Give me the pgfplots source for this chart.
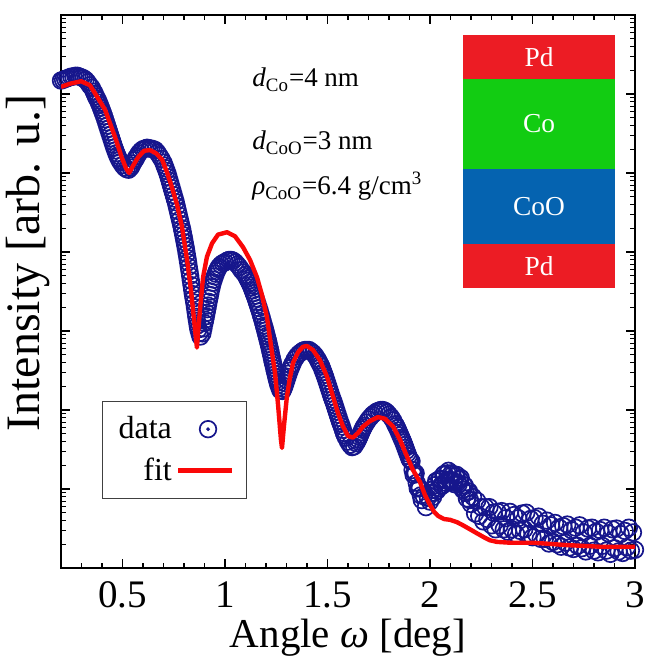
\documentclass[border=0pt]{standalone}
\usepackage{pgfplots}
\pgfplotsset{compat=1.18}
\usepackage{fontspec}
\setmainfont{Liberation Serif}
\definecolor{navy}{RGB}{22,22,140}
\definecolor{fitred}{RGB}{250,8,8}
\definecolor{pdred}{RGB}{236,28,36}
\definecolor{cogreen}{RGB}{18,204,18}
\definecolor{cooblue}{RGB}{5,99,176}
\begin{document}
\begin{tikzpicture}
\begin{axis}[
  at={(0,0)}, anchor=south west,
  scale only axis, width=287bp, height=276.5bp,
  xmin=0.2, xmax=3, ymode=log, ymin=1, ymax=1e7,
  xtick={0.5,1,1.5,2,2.5,3},
  xticklabels={0.5,1,1.5,2,2.5,3},
  minor xtick={0.3,0.4,0.6,0.7,0.8,0.9,1.1,1.2,1.3,1.4,1.6,1.7,1.8,1.9,2.1,2.2,2.3,2.4,2.6,2.7,2.8,2.9},
  ytick={1,10,100,1000,10000,100000,1000000,10000000},
  minor ytick={2,3,4,5,6,7,8,9,20,30,40,50,60,70,80,90,200,300,400,500,600,700,800,900,2000,3000,4000,5000,6000,7000,8000,9000,20000,30000,40000,50000,60000,70000,80000,90000,200000,300000,400000,500000,600000,700000,800000,900000,2000000,3000000,4000000,5000000,6000000,7000000,8000000,9000000},
  yticklabels={},
  tick align=inside,
  major tick length=4.5bp, minor tick length=2.6bp,
  axis line style={line width=1bp},
  every tick/.style={black, line width=0.7bp},
  /pgf/number format/assume math mode=true,
  xticklabel style={font=\fontsize{19.5bp}{22bp}\selectfont, anchor=base, yshift=-19.5bp},
  xlabel={Angle \textit{ω} [deg]},
  xlabel style={font=\fontsize{20.5bp}{24bp}\selectfont, at={(rel axis cs:0.5,-0.1440)}, anchor=base},
  ylabel={Intensity [arb. u.]},
  ylabel style={font=\fontsize{24bp}{28bp}\selectfont, at={(rel axis cs:-0.0383,0.5515)}, anchor=base},
  clip mode=individual,
  legend plot pos=right,
  legend cell align=right,
  legend style={at={(rel axis cs:0.0714,0.302)}, anchor=north west, draw=black!75, line width=0.6bp,
    font=\fontsize{16bp}{18bp}\selectfont, inner xsep=6bp, inner ysep=5.5bp, row sep=4bp},
]
\addplot[only marks, mark=o, mark size=4.15bp, navy, mark options={line width=0.85bp},
  legend image code/.code={\draw[navy, line width=0.85bp] (15bp,0) circle (4.15bp); \fill[navy] (15bp,0) circle (0.6bp);}]
coordinates {
(0.20,1.48e6)(0.21,1.51e6)(0.22,1.55e6)(0.23,1.58e6)(0.24,1.62e6)(0.25,1.66e6)(0.26,1.66e6)(0.27,1.70e6)(0.28,1.70e6)(0.29,1.66e6)
(0.30,1.62e6)(0.31,1.58e6)(0.32,1.51e6)(0.33,1.41e6)(0.34,1.29e6)(0.35,1.20e6)(0.36,1.07e6)(0.37,9.33e5)(0.38,8.32e5)(0.39,7.24e5)
(0.40,6.17e5)(0.41,5.25e5)(0.42,4.37e5)(0.43,3.63e5)(0.44,3.02e5)(0.45,2.51e5)(0.46,2.09e5)(0.47,1.78e5)(0.48,1.55e5)(0.49,1.38e5)
(0.50,1.26e5)(0.51,1.17e5)(0.52,1.12e5)(0.53,1.10e5)(0.54,1.17e5)(0.55,1.32e5)(0.56,1.45e5)(0.57,1.62e5)(0.58,1.78e5)(0.59,1.91e5)
(0.60,2.00e5)(0.61,2.04e5)(0.62,2.09e5)(0.63,2.04e5)(0.64,2.04e5)(0.65,2.00e5)(0.66,1.95e5)(0.67,1.82e5)(0.68,1.66e5)(0.69,1.51e5)
(0.70,1.35e5)(0.71,1.15e5)(0.72,9.77e4)(0.73,7.94e4)(0.74,6.46e4)(0.75,5.25e4)(0.76,4.27e4)(0.77,3.31e4)(0.78,2.57e4)(0.79,2.00e4)
(0.80,1.48e4)(0.81,1.07e4)(0.82,7.41e3)(0.83,5.01e3)(0.84,3.31e3)(0.85,2.29e3)(0.86,1.51e3)(0.87,1.05e3)(0.88,8.51e2)(0.89,9.33e2)
(0.90,1.26e3)(0.91,1.70e3)(0.92,2.34e3)(0.93,3.16e3)(0.94,4.07e3)(0.95,4.90e3)(0.96,5.75e3)(0.97,6.46e3)(0.98,6.92e3)(0.99,7.24e3)
(1.00,7.41e3)(1.01,7.76e3)(1.02,7.94e3)(1.03,7.94e3)(1.04,7.76e3)(1.05,7.41e3)(1.06,6.92e3)(1.07,6.46e3)(1.08,5.89e3)(1.09,5.50e3)
(1.10,5.13e3)(1.11,4.57e3)(1.12,4.07e3)(1.13,3.55e3)(1.14,3.02e3)(1.15,2.57e3)(1.16,2.14e3)(1.17,1.78e3)(1.18,1.45e3)(1.19,1.17e3)
(1.20,9.33e2)(1.21,7.41e2)(1.22,5.75e2)(1.23,4.37e2)(1.24,3.39e2)(1.25,2.63e2)(1.26,2.09e2)(1.27,1.78e2)(1.28,1.74e2)(1.29,2.00e2)
(1.30,2.40e2)(1.31,2.88e2)(1.32,3.39e2)(1.33,3.89e2)(1.34,4.37e2)(1.35,4.79e2)(1.36,5.13e2)(1.37,5.37e2)(1.38,5.62e2)(1.39,5.75e2)
(1.40,5.75e2)(1.41,5.75e2)(1.42,5.50e2)(1.43,5.25e2)(1.44,4.90e2)(1.45,4.47e2)(1.46,3.98e2)(1.47,3.55e2)(1.48,3.02e2)(1.49,2.57e2)
(1.50,2.14e2)(1.51,1.78e2)(1.52,1.48e2)(1.53,1.26e2)(1.54,1.05e2)(1.55,8.71e1)(1.56,7.24e1)(1.57,6.17e1)(1.58,5.13e1)(1.59,4.47e1)
(1.60,3.98e1)(1.61,3.63e1)(1.62,3.39e1)(1.63,3.47e1)(1.64,3.80e1)(1.65,4.27e1)(1.66,4.90e1)(1.67,5.62e1)(1.68,6.31e1)(1.69,6.92e1)
(1.70,7.59e1)(1.71,8.13e1)(1.72,8.71e1)(1.73,9.12e1)(1.74,9.55e1)(1.75,9.77e1)(1.76,1.00e2)(1.77,1.00e2)(1.78,9.77e1)(1.79,9.33e1)
(1.80,8.71e1)(1.81,8.13e1)(1.82,7.41e1)(1.83,6.61e1)(1.84,5.89e1)(1.85,5.13e1)(1.86,4.47e1)(1.87,3.89e1)(1.88,3.31e1)(1.89,2.82e1)
(1.90,2.40e1)(1.91,2.24e1)(1.92,1.51e1)(1.93,1.58e1)(1.94,1.02e1)(1.95,1.02e1)(1.96,7.24)(1.97,8.13)(1.98,5.89)(1.99,7.76)
(2.00,6.92)(2.01,9.77)(2.02,8.91)(2.03,12.6)(2.04,10.2)(2.05,13.5)(2.06,11.0)(2.07,15.5)(2.08,12.9)(2.09,17.0)
(2.10,12.3)(2.11,15.1)(2.12,11.5)(2.13,15.1)(2.14,11.5)(2.15,13.8)(2.16,9.77)(2.17,11.0)(2.18,7.59)(2.19,9.33)
(2.20,6.46)(2.21,7.94)(2.22,4.90)(2.23,7.08)(2.24,4.57)(2.25,5.89)(2.26,3.89)(2.27,5.89)(2.28,4.17)(2.29,5.89)
(2.30,3.47)(2.31,5.01)(2.32,3.09)(2.33,5.13)(2.34,3.47)(2.35,5.25)(2.36,3.09)(2.37,4.27)(2.38,2.88)(2.39,5.13)
(2.40,3.09)(2.41,4.68)(2.42,2.69)(2.43,4.27)(2.44,2.95)(2.45,4.90)(2.46,3.09)(2.47,5.01)(2.48,2.69)(2.49,4.17)
(2.50,2.45)(2.51,4.27)(2.52,2.63)(2.53,4.47)(2.54,2.34)(2.55,3.63)(2.56,2.34)(2.57,3.98)(2.58,2.04)(2.59,3.47)
(2.60,2.14)(2.61,3.72)(2.62,2.00)(2.63,3.24)(2.64,1.86)(2.65,3.39)(2.66,2.09)(2.67,3.55)(2.68,1.82)(2.69,3.02)
(2.70,1.74)(2.71,3.24)(2.72,1.91)(2.73,3.47)(2.74,1.78)(2.75,2.82)(2.76,1.62)(2.77,3.16)(2.78,1.91)(2.79,3.24)
(2.80,1.66)(2.81,2.88)(2.82,1.58)(2.83,3.02)(2.84,1.91)(2.85,3.24)(2.86,1.66)(2.87,2.75)(2.88,1.51)(2.89,3.09)
(2.90,1.78)(2.91,3.16)(2.92,1.62)(2.93,2.69)(2.94,1.55)(2.95,2.95)(2.96,1.82)(2.97,3.24)(2.98,1.66)(2.99,2.82)(3.00,1.70)
(0.365,1.00e6)(0.375,8.81e5)(0.385,7.76e5)(0.395,6.68e5)(0.405,5.69e5)(0.415,4.79e5)(0.425,3.98e5)(0.435,3.31e5)
(0.445,2.75e5)(0.455,2.29e5)(0.465,1.93e5)(0.475,1.66e5)(0.485,1.46e5)(0.545,1.24e5)(0.565,1.53e5)
(0.705,1.24e5)(0.715,1.06e5)(0.725,8.81e4)(0.735,7.16e4)(0.745,5.82e4)(0.755,4.73e4)(0.765,3.76e4)(0.775,2.92e4)(0.785,2.26e4)
(0.7933,1.81e4)(0.7967,1.63e4)(0.8033,1.33e4)(0.8067,1.19e4)(0.8133,9.48e3)(0.8167,8.37e3)(0.8233,6.50e3)(0.8267,5.71e3)
(0.8333,4.37e3)(0.8367,3.80e3)(0.8433,2.93e3)(0.8467,2.59e3)(0.8533,2.00e3)(0.8567,1.74e3)(0.8633,1.34e3)(0.8667,1.18e3)
(0.875,9.44e2)(0.895,1.08e3)(0.9033,1.39e3)(0.9067,1.54e3)(0.9133,1.89e3)(0.9167,2.10e3)(0.9233,2.59e3)(0.9267,2.86e3)
(0.935,3.59e3)(0.945,4.47e3)(0.955,5.31e3)(0.965,6.10e3)
(1.105,4.84e3)(1.115,4.32e3)(1.125,3.80e3)(1.135,3.27e3)(1.145,2.79e3)(1.155,2.34e3)(1.165,1.95e3)(1.175,1.60e3)(1.185,1.30e3)
(1.1933,1.09e3)(1.1967,1.01e3)(1.2033,8.65e2)(1.2067,8.00e2)(1.2133,6.81e2)(1.2167,6.27e2)(1.2233,5.25e2)(1.2267,4.79e2)
(1.2333,4.01e2)(1.2367,3.69e2)(1.2433,3.11e2)(1.2467,2.86e2)(1.2533,2.44e2)(1.2567,2.25e2)(1.265,1.93e2)
(1.285,1.86e2)(1.295,2.19e2)(1.305,2.63e2)(1.315,3.13e2)(1.325,3.63e2)
(1.455,4.22e2)(1.465,3.76e2)(1.475,3.27e2)(1.485,2.79e2)(1.495,2.34e2)(1.505,1.95e2)(1.515,1.62e2)(1.525,1.36e2)
(1.535,1.15e2)(1.545,9.55e1)(1.555,7.94e1)(1.565,6.68e1)(1.575,5.62e1)(1.585,4.79e1)
(1.645,4.03e1)(1.655,4.57e1)(1.665,5.25e1)(1.675,5.96e1)
(1.835,6.24e1)(1.845,5.50e1)(1.855,4.79e1)(1.865,4.17e1)(1.875,3.59e1)(1.885,3.05e1)(1.895,2.60e1)
(1.905,2.29e1)(1.915,1.74e1)(1.925,1.58e1)(1.935,1.20e1)(1.945,1.05e1)(1.955,8.32)
(2.005,8.91)(2.015,7.94)(2.025,11.2)(2.035,9.55)(2.045,13.2)(2.055,11.2)(2.065,15.1)(2.075,12.0)(2.085,15.8)(2.095,13.2)
(2.105,15.8)(2.115,12.6)(2.125,14.5)(2.135,12.0)(2.145,13.2)(2.155,10.5)(2.165,11.2)(2.175,8.91)(2.185,9.33)(2.195,7.24)
};
\addlegendentry{data}
\addplot[fitred, line width=2.2bp, line join=round, no marks,
  legend image code/.code={\draw[fitred, line width=2.2bp] (0,0) -- (27bp,0);}]
coordinates {
(0.200,1.23e6)(0.244,1.35e6)(0.298,1.45e6)(0.341,1.29e6)(0.366,1.02e6)(0.415,6.31e5)(0.463,2.88e5)(0.496,1.58e5)
(0.517,1.15e5)(0.532,1.00e5)(0.551,1.23e5)(0.576,1.58e5)(0.605,1.91e5)(0.634,1.95e5)(0.663,1.78e5)(0.693,1.48e5)
(0.717,1.02e5)(0.741,6.61e4)(0.766,3.98e4)(0.790,2.09e4)(0.815,7.94e3)(0.834,3.31e3)(0.849,1.38e3)(0.863,6.17e2)
(0.878,1.86e3)(0.893,4.79e3)(0.912,8.71e3)(0.937,1.29e4)(0.966,1.66e4)(1.010,1.78e4)(1.049,1.58e4)(1.088,1.15e4)
(1.122,7.94e3)(1.156,4.79e3)(1.180,2.88e3)(1.205,1.48e3)(1.224,6.61e2)(1.244,2.95e2)(1.259,1.15e2)(1.273,4.17e1)
(1.278,3.31e1)(1.288,6.46e1)(1.302,1.48e2)(1.317,2.57e2)(1.332,3.98e2)(1.356,5.37e2)(1.380,6.31e2)(1.400,6.46e2)
(1.429,5.75e2)(1.463,4.27e2)(1.498,2.63e2)(1.527,1.48e2)(1.551,9.12e1)(1.576,6.17e1)(1.600,4.68e1)(1.624,4.47e1)
(1.649,5.13e1)(1.673,6.17e1)(1.707,7.24e1)(1.746,8.13e1)(1.780,7.76e1)(1.820,6.17e1)(1.854,4.17e1)(1.888,2.57e1)
(1.917,1.74e1)(1.951,1.23e1)(1.976,8.32)(2.000,6.31)(2.020,5.13)(2.039,4.57)(2.068,4.17)(2.098,4.07)
(2.132,3.80)(2.161,3.47)(2.195,3.09)(2.229,2.75)(2.263,2.45)(2.293,2.24)(2.327,2.14)(2.390,2.09)
(2.502,2.09)(2.668,1.95)(2.829,1.86)(3.000,1.86)
};
\addlegendentry{fit}
% layer stack inset
\fill[pdred] (rel axis cs:0.7003,0.8843) rectangle (rel axis cs:0.9652,0.9638);
\fill[cogreen] (rel axis cs:0.7003,0.7215) rectangle (rel axis cs:0.9652,0.8843);
\fill[cooblue] (rel axis cs:0.7003,0.5859) rectangle (rel axis cs:0.9652,0.7215);
\fill[pdred] (rel axis cs:0.7003,0.5063) rectangle (rel axis cs:0.9652,0.5859);
\node[white, font=\fontsize{13.7bp}{16bp}\selectfont] at (rel axis cs:0.8328,0.9240) {Pd};
\node[white, font=\fontsize{13.7bp}{16bp}\selectfont] at (rel axis cs:0.8328,0.8029) {Co};
\node[white, font=\fontsize{13.7bp}{16bp}\selectfont] at (rel axis cs:0.8328,0.6537) {CoO};
\node[white, font=\fontsize{13.7bp}{16bp}\selectfont] at (rel axis cs:0.8328,0.5461) {Pd};
% annotations
\node[anchor=base west, inner sep=0pt, font=\fontsize{13.5bp}{16bp}\selectfont] at (rel axis cs:0.3328,0.8698) {\textit{d}\textsubscript{Co}=4 nm};
\node[anchor=base west, inner sep=0pt, font=\fontsize{13.5bp}{16bp}\selectfont] at (rel axis cs:0.3328,0.7559) {\textit{d}\textsubscript{CoO}=3 nm};
\node[anchor=base west, inner sep=0pt, font=\fontsize{13.5bp}{16bp}\selectfont] at (rel axis cs:0.3328,0.6745) {\textit{ρ}\textsubscript{CoO}=6.4 g/cm\textsuperscript{3}};
\end{axis}
\pgfresetboundingbox
\path[use as bounding box] (-30.5bp,-44.5bp) rectangle (294.5bp,284bp);
\end{tikzpicture}
\end{document}
